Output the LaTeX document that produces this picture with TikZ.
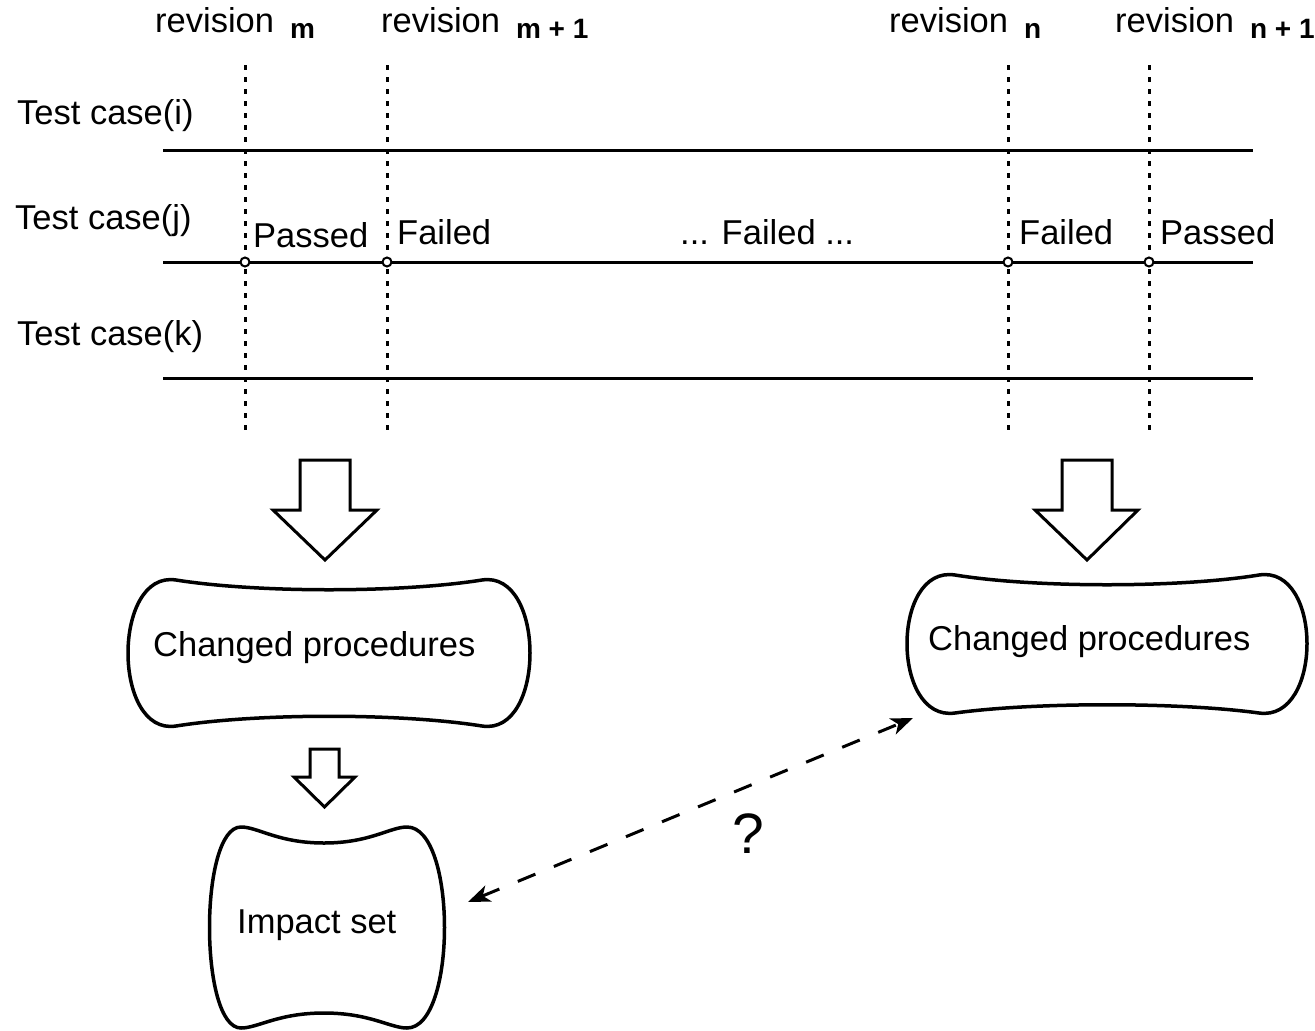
\documentclass[tikz,border=0pt]{standalone}
\usepackage{fontspec}
\setmainfont{Liberation Sans}
\usetikzlibrary{arrows.meta}
\newcommand{\subtxt}[1]{\raisebox{-6pt}{\fontsize{28}{32}\selectfont\bfseries #1}}
\begin{document}
\begin{tikzpicture}[x=1pt,y=-1pt,
  lbl/.style={inner sep=0pt, anchor=base west, font=\fontsize{34.5}{40}\selectfont},
  tline/.style={line width=3pt},
  vdash/.style={line width=3pt, dash pattern=on 5pt off 7pt},
  dotc/.style={circle, draw, fill=white, line width=2pt, minimum size=9pt, inner sep=0pt},
  blk/.style={draw, fill=white, line width=3pt, line join=miter},
  procshape/.style={draw, fill=white, line width=3.5pt},
  dbl/.style={line width=3pt, dash pattern=on 19pt off 20pt,
    {Stealth[length=22pt,width=17pt,inset=6pt]}-{Stealth[length=22pt,width=17pt,inset=6pt]}}
]
\path[use as bounding box] (0,0) rectangle (1315,1031);

% revision labels
\node[lbl] (rm)  at (155,32)  {revision\hspace{16pt}\subtxt{m}};
\node[lbl] (rm1) at (381,32)  {revision\hspace{16pt}\subtxt{m + 1}};
\node[lbl] (rn)  at (889,32)  {revision\hspace{16pt}\subtxt{n}};
\node[lbl] (rn1) at (1115,32) {revision\hspace{16pt}\subtxt{n + 1}};

% test case labels
\node[lbl] (ti) at (17,124) {Test case(i)};
\node[lbl] (tj) at (15,229) {Test case(j)};
\node[lbl] (tk) at (17,345) {Test case(k)};

% timelines
\coordinate (liA) at (163,150); \coordinate (liB) at (1253,150);
\coordinate (ljA) at (163,262); \coordinate (ljB) at (1253,262);
\coordinate (lkA) at (163,378); \coordinate (lkB) at (1253,378);
\draw[tline] (liA) -- (liB);
\draw[tline] (ljA) -- (ljB);
\draw[tline] (lkA) -- (lkB);

% dashed revision lines
\coordinate (vmT) at (245,65);  \coordinate (vmB) at (245,432);
\coordinate (vm1T) at (387,65); \coordinate (vm1B) at (387,432);
\coordinate (vnT) at (1008,65); \coordinate (vnB) at (1008,432);
\coordinate (vn1T) at (1149,65); \coordinate (vn1B) at (1149,432);
\draw[vdash] (vmT) -- (vmB);
\draw[vdash] (vm1T) -- (vm1B);
\draw[vdash] (vnT) -- (vnB);
\draw[vdash] (vn1T) -- (vn1B);

% circles on line j
\node[dotc] (c1) at (245,262) {};
\node[dotc] (c2) at (387,262) {};
\node[dotc] (c3) at (1008,262) {};
\node[dotc] (c4) at (1149,262) {};

% status labels
\node[lbl] (p1) at (253,247) {Passed};
\node[lbl] (f1) at (397,244) {Failed};
\node[lbl] (f2) at (680,244) {... Failed ...};
\node[lbl] (f3) at (1019,244) {Failed};
\node[lbl] (p2) at (1160,244) {Passed};

% block arrows
\draw[blk] (300,460) -- (350,460) -- (350,510) -- (377,510) -- (325,560) -- (273,510) -- (300,510) -- cycle;
\draw[blk] (1062,460) -- (1112,460) -- (1112,510) -- (1138,510) -- (1087,560) -- (1035,510) -- (1062,510) -- cycle;
\draw[blk] (310,749) -- (339,749) -- (339,777) -- (355,777) -- (324.5,807) -- (294,777) -- (310,777) -- cycle;

% changed procedures (left)
\draw[procshape] (176,580) .. controls (258,593) and (400,593) .. (482,580)
  .. controls (546,570) and (546,736) .. (482,726)
  .. controls (400,713) and (258,713) .. (176,726)
  .. controls (112,736) and (112,570) .. (176,580) -- cycle;
\node[lbl] (cpL) at (153,656) {Changed procedures};

% changed procedures (right)
\draw[procshape] (955,575) .. controls (1035,588) and (1179,588) .. (1259,575)
  .. controls (1323,565) and (1323,722) .. (1259,713)
  .. controls (1179,702) and (1035,702) .. (955,713)
  .. controls (891,722) and (891,565) .. (955,575) -- cycle;
\node[lbl] (cpR) at (928,650) {Changed procedures};

% impact set
\draw[procshape] (241,827) .. controls (258,827) and (278,843) .. (324,843)
  .. controls (370,843) and (390,827) .. (407,827)
  .. controls (457,827) and (457,1028) .. (407,1028)
  .. controls (390,1028) and (370,1013) .. (324,1013)
  .. controls (278,1013) and (258,1028) .. (241,1028)
  .. controls (199,1028) and (199,827) .. (241,827) -- cycle;
\node[lbl] (imp) at (237,933) {Impact set};

% dashed double arrow
\coordinate (dA) at (468,902);
\coordinate (dB) at (913,718);
\draw[dbl] (dA) -- (dB);
\node[inner sep=0pt, anchor=base, font=\fontsize{57}{60}\selectfont] (q) at (748,853) {?};
\end{tikzpicture}
\end{document}
